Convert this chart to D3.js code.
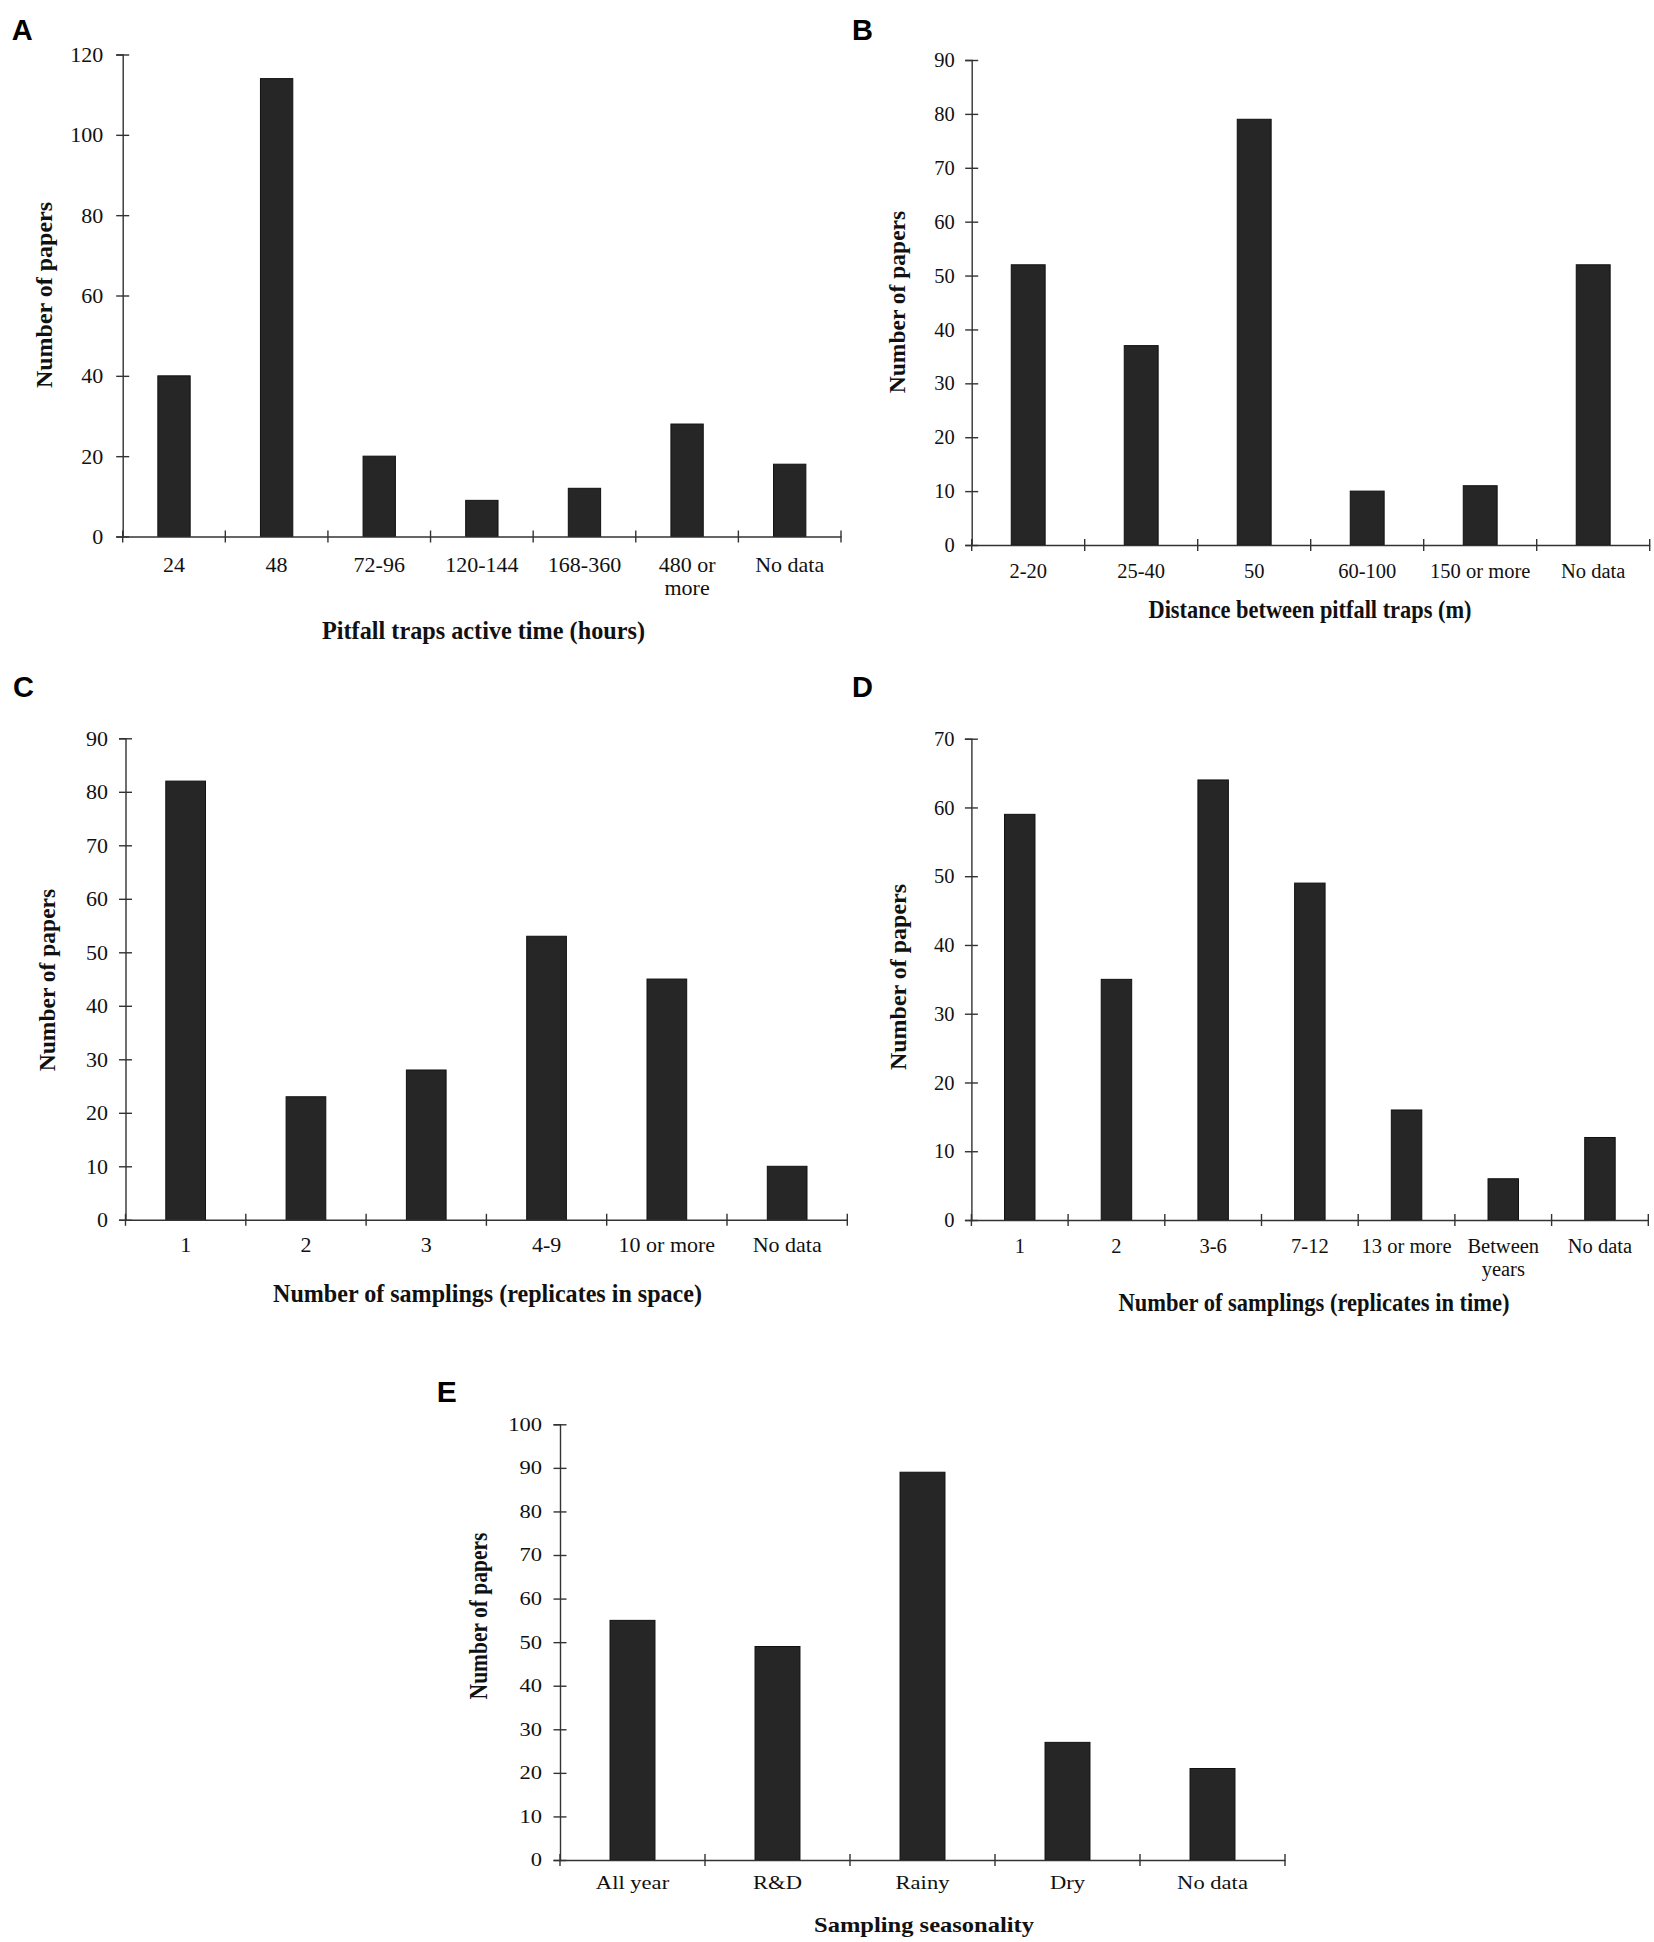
<!DOCTYPE html>
<html><head><meta charset="utf-8">
<script src="https://cdn.jsdelivr.net/npm/d3@7"></script>
<style>body{margin:0;background:#fff} svg{display:block}</style>
</head><body>
<svg id="fig" width="1654" height="1942"></svg>
<script>
// ---------- data ----------
const catsA = ["24", "48", "72-96", "120-144", "168-360", "480 or\nmore", "No data"];
const valsA = [40, 114, 20, 9, 12, 28, 18];
const ticksA = [0, 20, 40, 60, 80, 100, 120];

const catsB = ["2-20", "25-40", "50", "60-100", "150 or more", "No data"];
const valsB = [52, 37, 79, 10, 11, 52];
const ticksB = [0, 10, 20, 30, 40, 50, 60, 70, 80, 90];

const catsC = ["1", "2", "3", "4-9", "10 or more", "No data"];
const valsC = [82, 23, 28, 53, 45, 10];
const ticksC = [0, 10, 20, 30, 40, 50, 60, 70, 80, 90];

const catsD = ["1", "2", "3-6", "7-12", "13 or more", "Between\nyears", "No data"];
const valsD = [59, 35, 64, 49, 16, 6, 12];
const ticksD = [0, 10, 20, 30, 40, 50, 60, 70];

const catsE = ["All year", "R&D", "Rainy", "Dry", "No data"];
const valsE = [55, 49, 89, 27, 21];
const ticksE = [0, 10, 20, 30, 40, 50, 60, 70, 80, 90, 100];

const yTitle = "Number of papers";
const xTitleA = "Pitfall traps active time (hours)";
const xTitleB = "Distance between pitfall traps (m)";
const xTitleC = "Number of samplings (replicates in space)";
const xTitleD = "Number of samplings (replicates in time)";
const xTitleE = "Sampling seasonality";

// ---------- layout ----------
const panels = [
  {letter:"A", cats:catsA, vals:valsA, ticks:ticksA, xt:xTitleA,
   lx:11.7, ly:39.5, lf:29, x0:122.7, x1:841, yTop:54.5, y0:536.5, tf:22, sx:1,
   labBase:571.5, lineGap:23, yGap:19.5, ytf:24, ytX:52, ytY:295, ytS:1,
   xtX:483.5, xtY:639, xtW:323, xtf:26, bar:0.315},
  {letter:"B", cats:catsB, vals:valsB, ticks:ticksB, xt:xTitleB,
   lx:852, ly:39.5, lf:29, x0:971.7, x1:1649.7, yTop:60, y0:545, tf:20.5, sx:1,
   labBase:578, lineGap:23, yGap:17, ytf:23.5, ytX:905, ytY:302, ytS:1,
   xtX:1310, xtY:618, xtW:323, xtf:25, bar:0.30},
  {letter:"C", cats:catsC, vals:valsC, ticks:ticksC, xt:xTitleC,
   lx:13, ly:697, lf:29, x0:125.5, x1:847.3, yTop:738.3, y0:1219.8, tf:22, sx:1,
   labBase:1252, lineGap:23, yGap:17.5, ytf:23.5, ytX:55, ytY:980, ytS:1,
   xtX:487.5, xtY:1302, xtW:429, xtf:26, bar:0.33},
  {letter:"D", cats:catsD, vals:valsD, ticks:ticksD, xt:xTitleD,
   lx:852, ly:697, lf:29, x0:971.4, x1:1648.3, yTop:738.7, y0:1220, tf:20.5, sx:1,
   labBase:1253.3, lineGap:23, yGap:17, ytf:24, ytX:906, ytY:977, ytS:1,
   xtX:1314, xtY:1310.7, xtW:391, xtf:26, bar:0.315},
  {letter:"E", cats:catsE, vals:valsE, ticks:ticksE, xt:xTitleE,
   lx:436.7, ly:1401.7, lf:30, x0:560, x1:1285, yTop:1424.3, y0:1860, tf:18.5, sx:1.22,
   labBase:1888.7, lineGap:20, yGap:18, ytf:21.5, ytX:486.7, ytY:1616, ytS:1.19,
   xtX:924, xtY:1932, xtW:220, xtf:22, bar:0.31}
];

const svg = d3.select("#fig");
const serif = "'Liberation Serif','Times New Roman',Times,serif";
const sans = "'Liberation Sans',Arial,Helvetica,sans-serif";
const axisColor = "#333";

panels.forEach(p => {
  const g = svg.append("g");
  const x = d3.scaleBand().domain(p.cats).range([p.x0, p.x1]).padding(0);
  const y = d3.scaleLinear().domain([0, d3.max(p.ticks)]).range([p.y0, p.yTop]);

  // bars
  const bw = x.bandwidth() * p.bar;
  g.selectAll("rect.bar").data(p.vals).enter().append("rect")
    .attr("class", "bar")
    .attr("x", (d, i) => x(p.cats[i]) + x.bandwidth() / 2 - bw / 2)
    .attr("y", d => y(d))
    .attr("width", bw)
    .attr("height", d => y(0) - y(d))
    .attr("fill", "#262626")
    .attr("stroke", "#111")
    .attr("stroke-width", 1);

  // y axis
  const ya = g.append("g").attr("transform", `translate(${p.x0},0)`)
    .call(d3.axisLeft(y).tickValues(p.ticks).tickSizeOuter(0).tickSize(6.5).tickPadding(0));
  ya.select(".domain").attr("stroke", axisColor).attr("stroke-width", 1.4);
  ya.selectAll(".tick line").attr("x1", -6.5).attr("x2", 6.5)
    .attr("stroke", axisColor).attr("stroke-width", 1.4);
  ya.selectAll(".tick text")
    .attr("x", -p.yGap / p.sx)
    .attr("transform", `scale(${p.sx},1)`)
    .attr("font-family", serif).attr("font-size", p.tf).attr("fill", "#111");

  // x axis (labels at band centres, ticks at band boundaries)
  const xa = g.append("g").attr("transform", `translate(0,${p.y0})`)
    .call(d3.axisBottom(x).tickSize(0).tickSizeOuter(0).tickPadding(0));
  xa.select(".domain").attr("stroke", axisColor).attr("stroke-width", 1.4);
  xa.selectAll(".tick text").each(function(d) {
    const t = d3.select(this);
    t.text(null).attr("y", p.labBase - p.y0).attr("dy", null)
      .attr("transform", `scale(${p.sx},1)`)
      .attr("font-family", serif).attr("font-size", p.tf).attr("fill", "#111");
    d.split("\n").forEach((line, k) => {
      t.append("tspan").attr("x", 0).attr("dy", k === 0 ? 0 : p.lineGap).text(line);
    });
  });
  const bounds = p.cats.map(c => x(c)).concat([x.range()[1]]);
  xa.selectAll("line.bt").data(bounds).enter().append("line")
    .attr("class", "bt")
    .attr("x1", d => d).attr("x2", d => d)
    .attr("y1", -6).attr("y2", 6)
    .attr("stroke", axisColor).attr("stroke-width", 1.4);

  // y title
  g.append("text")
    .attr("transform", `translate(${p.ytX},${p.ytY}) scale(${p.ytS},1) rotate(-90)`)
    .attr("text-anchor", "middle")
    .attr("font-family", serif).attr("font-weight", "bold").attr("font-size", p.ytf)
    .attr("fill", "#111")
    .text(yTitle);

  // x title
  g.append("text")
    .attr("x", p.xtX).attr("y", p.xtY)
    .attr("text-anchor", "middle")
    .attr("font-family", serif).attr("font-weight", "bold").attr("font-size", p.xtf)
    .attr("textLength", p.xtW).attr("lengthAdjust", "spacingAndGlyphs")
    .attr("fill", "#111")
    .text(p.xt);

  // panel letter
  g.append("text")
    .attr("x", p.lx).attr("y", p.ly)
    .attr("font-family", sans).attr("font-weight", "bold").attr("font-size", p.lf)
    .attr("fill", "#000")
    .text(p.letter);
});
</script>
</body></html>
